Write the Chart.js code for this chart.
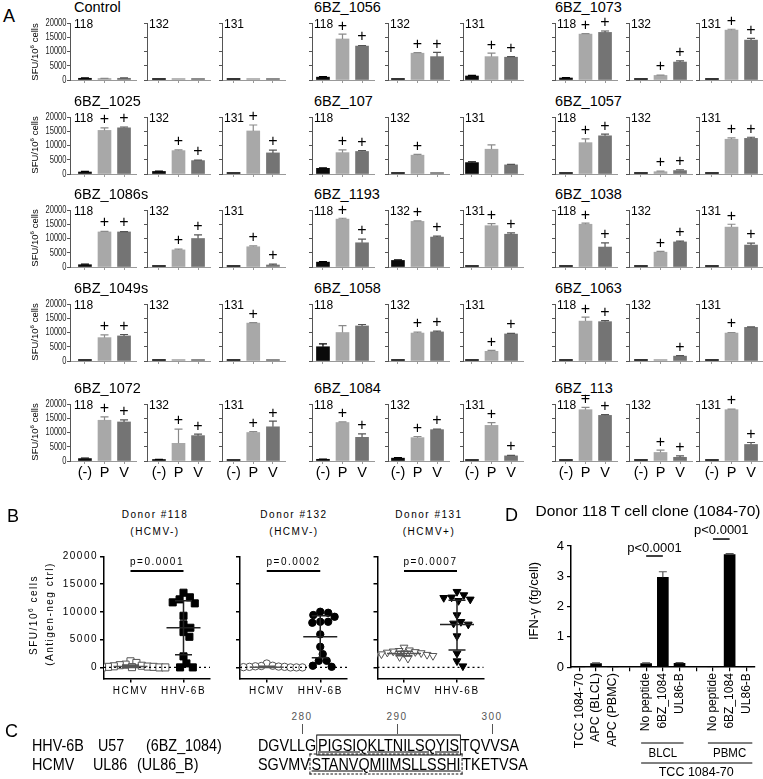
<!DOCTYPE html>
<html><head><meta charset="utf-8">
<script src="https://cdn.jsdelivr.net/npm/chart.js@4.4.0/dist/chart.umd.min.js"></script>
<style>
body{margin:0;background:#fff;}
#root{position:relative;width:763px;height:779px;overflow:hidden;font-family:"Liberation Sans",Arial,sans-serif;color:#000;background:#fff;}
.t{position:absolute;white-space:nowrap;line-height:1;}
canvas{position:absolute;}
sup{font-size:65%;vertical-align:top;position:relative;top:-0.1em;}
</style></head><body><div id="root"></div>
<script>
// ---------------- DATA ----------------
const peptides = ["Control","6BZ_1056","6BZ_1073","6BZ_1025","6BZ_107","6BZ_1057","6BZ_1086s","6BZ_1193","6BZ_1038","6BZ_1049s","6BZ_1058","6BZ_1063","6BZ_1072","6BZ_1084","6BZ_113"];
const donors = ["118","132","131"];
const conditions = ["(-)","P","V"];
const yTicksA = [0,5000,10000,15000,20000];

const sfu118 = [[600,450,600],[1000,14400,11900],[700,16100,16700],[700,15300,16200],[2000,7500,7900],[100,11000,13400],[800,12300,12300],[1700,16800,8500],[100,15000,7000],[50,8200,8800],[5000,10000,12300],[100,14000,13800],[850,14300,13700],[600,13500,8300],[100,18000,16000]];
const sd118  = [[150,100,150],[200,1700,200],[100,200,500],[200,900,300],[200,1000,300],[0,1300,600],[200,200,100],[200,300,1300],[0,400,1500],[0,1000,500],[1000,2400,500],[0,1400,400],[200,1200,700],[100,200,1200],[0,800,300]];
const plus118 = [[0,0,0],[0,1,1],[0,1,1],[0,1,1],[0,1,1],[0,1,1],[0,1,1],[0,1,1],[0,1,1],[0,1,1],[0,0,0],[0,1,1],[0,1,1],[0,1,1],[0,1,1]];

const sfu132 = [[50,50,150],[100,9400,8200],[50,1600,6300],[900,8200,4700],[50,6600,300],[50,800,1200],[100,6000,10000],[2300,16000,10500],[50,5200,8800],[50,50,100],[100,9800,10200],[50,300,1700],[500,6200,8900],[1000,8200,11000],[50,3000,1300]];
const sd132  = [[0,0,0],[0,200,1500],[0,100,400],[100,300,200],[0,300,0],[0,200,300],[0,300,1300],[200,200,300],[0,300,300],[0,0,0],[0,300,300],[0,0,200],[100,5000,500],[200,400,200],[0,800,500]];
const plus132 = [[0,0,0],[0,1,1],[0,1,1],[0,1,1],[0,1,0],[0,1,1],[0,1,1],[0,1,1],[0,1,1],[0,0,0],[0,1,1],[0,0,1],[0,1,1],[0,1,1],[0,1,1]];

const sfu131 = [[150,100,50],[1400,8200,8000],[50,17500,14000],[150,15100,7400],[4000,8700,3200],[50,12200,12500],[100,7100,700],[100,14500,11500],[50,14000,7700],[50,13300,100],[50,3400,9500],[50,9800,11800],[100,10000,12000],[100,12500,1800],[50,18000,5800]];
const sd131  = [[0,0,0],[200,1200,200],[0,300,600],[0,2100,1000],[300,1500,200],[0,500,400],[0,300,300],[0,700,500],[0,1000,700],[0,200,0],[0,300,200],[0,200,200],[0,300,2000],[0,1000,200],[0,200,700]];
const plus131 = [[0,0,0],[0,1,1],[0,1,1],[0,1,1],[0,0,0],[0,1,1],[0,1,1],[0,1,1],[0,1,1],[0,1,0],[0,1,1],[0,1,0],[0,1,1],[0,1,1],[0,1,1]];

// Panel B
const groupsB = ["HCMV","HHV-6B"];
const yTicksB = [0,5000,10000,15000,20000];
const hcmv118 = [1100,800,500,400,300,200,150,100,100,50,0,0,0,0];
const hhv118  = [13470,12640,12270,11730,11550,9310,7760,7150,6370,5520,1990,720,0,0];
const hcmv132 = [700,300,250,200,150,100,100,50,0,0,0,0,0,0];
const hhv132  = [10040,9850,9440,9130,8230,8230,8050,5960,3720,2400,1190,1190,300,110];
const hcmv131 = [3600,3100,3000,2900,2800,2700,2600,2500,2400,2300,2200,2100,1900,1600];
const hhv131  = [13650,13050,12640,12560,12270,12020,9440,8230,7940,7760,5650,2530,1140,230];
const summHcmv = [[0,150,450],[0,50,200],[2100,2500,2900]];   // [q1, median, q3]
const summHhv  = [[2300,7150,12000],[1730,5520,9310],[3120,7760,12130]];
const pValuesB = ["p=0.0001","p=0.0002","p=0.0007"];
const donorTitlesB = ["Donor #118","Donor #132","Donor #131"];
const hcmvStatusB = ["(HCMV-)","(HCMV-)","(HCMV+)"];

// Panel D
const labelsD = ["TCC 1084-70","APC (BLCL)","APC (PBMC)","","No peptide","6BZ_1084","UL86-B","","No peptide","6BZ_1084","UL86-B"];
const ifnD    = [0,0.12,0,null,0.12,2.97,0.13,null,0.01,3.72,0.01];
const ifnErrD = [0,0.02,0,0,0.02,0.18,0.02,0,0,0.03,0];
const pValuesD = ["p<0.0001","p<0.0001"];

// ---------------- HELPERS ----------------
const root = document.getElementById('root');
Chart.defaults.font.family = '"Liberation Sans", Arial, sans-serif';
Chart.defaults.color = '#000';
function txt(html, x, y, css, anchor, sx){
  const d=document.createElement('div'); d.className='t'; d.style.cssText = css||'';
  d.innerHTML=html; d.style.left=x+'px'; d.style.top=y+'px';
  const ax = anchor==='c' ? '-50%' : anchor==='r' ? '-100%' : '0';
  d.style.transformOrigin = anchor==='c' ? '50% 50%' : '0 50%';
  d.style.transform=`translate(${ax},-50%)` + (sx ? ` scaleX(${sx})` : '');
  root.appendChild(d); return d;
}
function vtxt(html, x, y, css){
  const d=document.createElement('div'); d.className='t'; d.style.cssText = css||'';
  d.innerHTML=html; d.style.left=x+'px'; d.style.top=y+'px';
  d.style.transform='translate(-50%,-50%) rotate(-90deg)'; root.appendChild(d); return d;
}
function mkCanvas(l,t,w,h){
  const c=document.createElement('canvas'); c.width=w; c.height=h;
  c.style.left=l+'px'; c.style.top=t+'px'; c.style.width=w+'px'; c.style.height=h+'px';
  root.appendChild(c); return c;
}

// ---------------- PANEL A ----------------
const barDecor = {
  id:'barDecor',
  afterDatasetsDraw(chart, args, o){
    const {ctx, scales:{x,y}} = chart;
    const pts = chart.data.datasets[0].data;
    ctx.save();
    pts.forEach((p,i)=>{
      const e = o.err[i]||0;
      const cx = x.getPixelForValue(p.x);
      const top = y.getPixelForValue(p.y + e);
      if (e>0){
        ctx.strokeStyle=o.errColors[i]; ctx.lineWidth=1.2; ctx.beginPath();
        ctx.moveTo(cx, y.getPixelForValue(p.y)); ctx.lineTo(cx, top);
        ctx.moveTo(cx-4, top); ctx.lineTo(cx+4, top); ctx.stroke();
      }
      if (o.plus[i]){
        ctx.fillStyle='#000'; ctx.font='16px "Liberation Sans", Arial'; ctx.textAlign='center'; ctx.textBaseline='middle';
        ctx.fillText('+', cx, Math.min(top, y.getPixelForValue(p.y)-1)-8);
      }
    });
    ctx.fillStyle='#000'; ctx.font='12px "Liberation Sans", Arial'; ctx.textAlign='left'; ctx.textBaseline='middle';
    ctx.fillText(o.donor, chart.chartArea.left + o.labelDx, chart.chartArea.top + 2);
    if (o.showY){
      // condensed tick labels (the reference uses a narrow face)
      ctx.fillStyle='#222'; ctx.font='10.5px "Liberation Sans", Arial'; ctx.textAlign='right'; ctx.textBaseline='middle';
      yTicksA.forEach(v=>{
        ctx.save(); ctx.translate(chart.chartArea.left-3.5, y.getPixelForValue(v)); ctx.scale(0.72,1);
        ctx.fillText(String(v),0,0); ctx.restore();
      });
    }
    ctx.restore();
  }
};

const donorVals = [sfu118, sfu132, sfu131];
const donorSd = [sd118, sd132, sd131];
const donorPlus = [plus118, plus132, plus131];
const barColors = ['#0a0a0a','#a8a8a8','#747474'];
const errColors = ['#000','#8a8a8a','#555'];
const colAxisX = [[70,147,222],[312,388,463],[555,629,699]];
const firstGap = [[15,12,11.5],[11,10,9],[11,12,13]];
const rowTop = [23.3, 116.7, 210, 303.5, 404];
const PH = 56.7, SP = 19.6;

for (let r=0;r<5;r++){
  for (let g=0; g<3; g++){
    const pi = r*3+g;
    txt(peptides[pi], [74,314,555][g], rowTop[r]-16, 'font-size:14.5px;', 'l');
    for (let d=0; d<3; d++){
      const vals = donorVals[d][pi];
      const ax = colAxisX[g][d], gap = firstGap[g][d];
      const showY = (g===0 && d===0), showX = (r===4);
      const yW = showY ? 30 : 4, padTop = 16, xH = showX ? 20 : 4, padR = 2;
      const plotW = gap + 2*SP + 12;
      const c = mkCanvas(ax - yW, rowTop[r]-padTop, Math.round(yW+plotW+padR), Math.round(padTop+PH+xH));
      new Chart(c, {
        type:'bar',
        data:{datasets:[{data: vals.map((v,i)=>({x:i,y:v})), backgroundColor: barColors, borderWidth:0, barThickness:13, minBarLength:1.5}]},
        options:{
          responsive:false, animation:false, devicePixelRatio:1,
          layout:{padding:{top:padTop,right:padR,left:0,bottom:0}},
          plugins:{legend:{display:false}, tooltip:{enabled:false},
            barDecor:{err:donorSd[d][pi], plus:donorPlus[d][pi], donor:donors[d], errColors, labelDx: showY?4:2, showY}},
          scales:{
            x:{type:'linear', min:-gap/SP, max:2+12/SP, offset:false,
               grid:{offset:false, drawOnChartArea:false, drawTicks:true, tickLength:3, color:'#999'},
               border:{color:'#999', width:1},
               afterBuildTicks:s=>{s.ticks=[0,1,2].map(v=>({value:v}));},
               ticks:{display:showX, callback:v=>conditions[v], font:{size:14.5}, color:'#000', padding:0, maxRotation:0, minRotation:0, autoSkip:false},
               afterFit:s=>{s.height=xH;}},
            y:{type:'linear', min:0, max:20000,
               grid:{drawOnChartArea:false, drawTicks:true, tickLength:3, color:'#555'},
               border:{color:'#555', width:1},
               afterBuildTicks:s=>{s.ticks=yTicksA.map(v=>({value:v}));},
               ticks:{display:false},
               afterFit:s=>{s.width=yW;}}
          }
        },
        plugins:[barDecor]
      });
    }
  }
  vtxt('SFU/10<sup>6</sup> cells', 35, rowTop[r]+PH/2, 'font-size:9.5px;');
}
txt('A', 3, 16, 'font-size:18px;', 'l');

// ---------------- PANEL B ----------------
function swarm(vals, pyPerUnit, minD){
  const idx = vals.map((v,i)=>i).sort((a,b)=>vals[b]-vals[a]);
  const placed=[]; const off=new Array(vals.length).fill(0);
  for (const i of idx){
    const yy = vals[i]*pyPerUnit;
    for (let k=0;k<400;k++){
      const cnd = (k===0)?0:((k%2)?1:-1)*Math.ceil(k/2)*0.5;
      if (placed.every(p => (p.x-cnd)**2 + (p.y-yy)**2 >= minD*minD)){ off[i]=cnd; placed.push({x:cnd,y:yy}); break; }
    }
  }
  return off;
}
const bDecor = {
  id:'bDecor',
  beforeDraw(chart){ chart.ctx.letterSpacing='1.5px'; },
  afterDatasetsDraw(chart,args,o){
    const {ctx, chartArea:a, scales:{x,y}} = chart;
    ctx.save();
    ctx.strokeStyle='#000'; ctx.lineWidth=1.2; ctx.setLineDash([2,3]);
    ctx.beginPath(); ctx.moveTo(a.left, y.getPixelForValue(0)); ctx.lineTo(a.right, y.getPixelForValue(0)); ctx.stroke();
    ctx.setLineDash([]);
    o.summ.forEach((s,i)=>{
      const cx = x.getPixelForValue(i);
      ctx.strokeStyle = i===0 ? '#555' : '#222'; ctx.lineWidth=1.5;
      ctx.beginPath();
      ctx.moveTo(cx-17, y.getPixelForValue(s[1])); ctx.lineTo(cx+17, y.getPixelForValue(s[1]));
      ctx.moveTo(cx-8.5, y.getPixelForValue(s[0])); ctx.lineTo(cx+8.5, y.getPixelForValue(s[0]));
      ctx.moveTo(cx-8.5, y.getPixelForValue(s[2])); ctx.lineTo(cx+8.5, y.getPixelForValue(s[2]));
      ctx.moveTo(cx, y.getPixelForValue(s[0])); ctx.lineTo(cx, y.getPixelForValue(s[2]));
      ctx.stroke();
    });
    const x0=x.getPixelForValue(0), x1=x.getPixelForValue(1);
    ctx.strokeStyle='#000'; ctx.lineWidth=2;
    ctx.beginPath(); ctx.moveTo(x0, y.getPixelForValue(17400)); ctx.lineTo(x1, y.getPixelForValue(17400)); ctx.stroke();
    ctx.fillStyle='#000'; ctx.font='10px "Liberation Sans", Arial'; ctx.textAlign='center'; ctx.textBaseline='middle';
    ctx.fillText(o.p, (x0+x1)/2, y.getPixelForValue(19000));
    ctx.restore();
  }
};
const hcmvB = [hcmv118, hcmv132, hcmv131];
const hhvB = [hhv118, hhv132, hhv131];
const stylesB = [{ps:'rect', r:5, rot:0},{ps:'circle', r:3.7, rot:0},{ps:'triangle', r:4.5, rot:180}];
const bAxisX = [104, 240, 377];
const bTitleX = [155, 294, 429];
const BPH = 122, BPW = 108;
for (let i=0;i<3;i++){
  const showY = i===0;
  const yW = showY ? 44 : 5, padTop = 16.5, canvasH = 162, xH = canvasH - padTop - BPH;
  const c = mkCanvas(bAxisX[i]-yW, 540, yW+BPW+4, canvasH);
  const pyu = BPH/22000, pxu = BPW/2;
  const o1 = swarm(hcmvB[i], pyu, 6), o2 = swarm(hhvB[i], pyu, 7.6);
  const st = stylesB[i];
  new Chart(c, {
    type:'scatter',
    data:{datasets:[
      {data: hhvB[i].map((v,k)=>({x:1+o2[k]/pxu, y:v})), pointStyle:st.ps, pointRadius:st.r, pointRotation:st.rot, backgroundColor:'#000', borderColor:'#000', borderWidth:1},
      {data: hcmvB[i].map((v,k)=>({x:0+o1[k]/pxu, y:v})), pointStyle:st.ps, pointRadius:st.r, pointRotation:st.rot, backgroundColor:'#fff', borderColor:'#555', borderWidth:1}
    ]},
    options:{
      responsive:false, animation:false, devicePixelRatio:1,
      layout:{padding:{top:padTop,right:4,left:0,bottom:0}},
      plugins:{legend:{display:false}, tooltip:{enabled:false}, bDecor:{summ:[summHcmv[i], summHhv[i]], p:pValuesB[i]}},
      scales:{
        x:{type:'linear', min:-0.5, max:1.5,
           grid:{drawOnChartArea:false, tickLength:4, color:'#000', lineWidth:1.5},
           border:{color:'#000', width:1.5},
           afterBuildTicks:s=>{s.ticks=[0,1].map(v=>({value:v}));},
           ticks:{callback:v=>groupsB[v], font:{size:10}, padding:3, maxRotation:0, minRotation:0, autoSkip:false},
           afterFit:s=>{s.height=xH;}},
        y:{type:'linear', min:-2000, max:20000,
           grid:{drawOnChartArea:false, tickLength:4, color:'#000', lineWidth:1.5},
           border:{color:'#000', width:1.5},
           afterBuildTicks:s=>{s.ticks=yTicksB.map(v=>({value:v}));},
           ticks:{display:showY, callback:v=>String(v), font:{size:10}, padding:2},
           afterFit:s=>{s.width=yW;}}
      }
    },
    plugins:[bDecor]
  });
  txt(donorTitlesB[i], bTitleX[i], 515, 'font-size:10px;letter-spacing:1.5px;', 'c');
  txt(hcmvStatusB[i], bTitleX[i], 532, 'font-size:10px;letter-spacing:1.5px;', 'c');
}
vtxt('SFU/10<sup>6</sup> cells', 34, 615, 'font-size:10px;letter-spacing:1.5px;');
vtxt('(Antigen-neg ctrl)', 50, 614, 'font-size:10px;letter-spacing:1.5px;');
txt('B', 7, 516, 'font-size:18px;', 'l');

// ---------------- PANEL C ----------------
txt('C', 5, 731, 'font-size:18px;', 'l');
const seqFont = 'font-size:17px;';
const SX = 0.845;
[['280',302],['290',397],['300',492]].forEach(([s,x])=>{
  txt(s, x, 717, 'font-size:10px;letter-spacing:1.5px;color:#555;', 'c');
  const l=document.createElement('div'); l.style.cssText=`position:absolute;left:${x}px;top:724px;width:1px;height:10px;background:#555;`; root.appendChild(l);
});
txt('HHV-6B', 32, 745, seqFont, 'l', SX); txt('U57', 98, 745, seqFont, 'l', SX); txt('(6BZ_1084)', 146, 745, seqFont, 'l', SX);
txt('HCMV', 32, 764, seqFont, 'l', SX); txt('UL86', 93, 764, seqFont, 'l', SX); txt('(UL86_B)', 137, 764, seqFont, 'l', SX);
txt('DGVLLG<span style="border:1px solid #000;text-decoration:underline;padding:0 1px;">PIGSIQKLTNILSQYIS</span>TQVVSA', 258, 745, seqFont, 'l', SX);
txt('SGVMV<span style="border:1px dashed #000;text-decoration:underline;padding:0 1px;">STANVQMIIMSLLSSHI</span>TKETVSA', 258, 764, seqFont, 'l', SX);

// ---------------- PANEL D ----------------
const dDecor = {
  id:'dDecor',
  afterDraw(chart,args,o){
    const {ctx, scales:{x,y}} = chart;
    const T = 520; // canvas top in page coordinates
    ctx.save();
    chart.data.datasets[0].data.forEach((v,i)=>{
      const e = ifnErrD[i];
      if (v==null || !e) return;
      const cx=x.getPixelForValue(i), t=y.getPixelForValue(v+e);
      ctx.strokeStyle='#555'; ctx.lineWidth=1.2; ctx.beginPath();
      ctx.moveTo(cx, y.getPixelForValue(v)); ctx.lineTo(cx,t); ctx.moveTo(cx-4,t); ctx.lineTo(cx+4,t); ctx.stroke();
    });
    ctx.fillStyle='#000'; ctx.strokeStyle='#000'; ctx.lineWidth=1.5;
    ctx.font='13px "Liberation Sans", Arial'; ctx.textAlign='center'; ctx.textBaseline='middle';
    [[4,5,3.67,3.93,0],[8,9,4.23,4.5,1]].forEach(([a,b,ly,ty,k])=>{
      const xa=x.getPixelForValue(a), xb=x.getPixelForValue(b);
      ctx.beginPath(); ctx.moveTo(xa, y.getPixelForValue(ly)); ctx.lineTo(xb, y.getPixelForValue(ly)); ctx.stroke();
      ctx.fillText(pValuesD[k], (xa+xb)/2, y.getPixelForValue(ty));
    });
    ctx.lineWidth=1;
    const xs=i=>x.getPixelForValue(i);
    ctx.beginPath();
    ctx.moveTo(xs(4)-5, 743-T); ctx.lineTo(xs(6)+4, 743-T);
    ctx.moveTo(xs(8)-5, 743-T); ctx.lineTo(xs(10)+6, 743-T);
    ctx.moveTo(xs(4)-5, 763-T); ctx.lineTo(xs(10)+6, 763-T);
    ctx.stroke();
    ctx.font='13.5px "Liberation Sans", Arial';
    [['BLCL',xs(5)],['PBMC',xs(9)]].forEach(([s,cx])=>{
      ctx.save(); ctx.translate(cx, 753-T); ctx.scale(0.85,1); ctx.fillText(s,0,0); ctx.restore();
    });
    ctx.font='12.5px "Liberation Sans", Arial';
    ctx.fillText('TCC 1084-70', (xs(4)+xs(10))/2, 773-T);
    ctx.restore();
  }
};
{
  const c = mkCanvas(520, 520, 243, 259);
  const padTop = 26, PHD = 121.2;
  new Chart(c, {
    type:'bar',
    data:{labels:labelsD, datasets:[{data:ifnD, backgroundColor:'#000', borderWidth:0, barThickness:11}]},
    options:{
      responsive:false, animation:false, devicePixelRatio:1,
      layout:{padding:{top:padTop,right:6,left:0,bottom:0}},
      plugins:{legend:{display:false}, tooltip:{enabled:false}},
      scales:{
        x:{type:'category', offset:true,
           grid:{offset:false, drawOnChartArea:false, tickLength:4, color:'#000', lineWidth:1.2},
           border:{color:'#000', width:1.5},
           ticks:{maxRotation:90, minRotation:90, autoSkip:false, padding:2,
             font:(ctx)=> (ctx.index<3 ? {size:12.5} : {size:12})},
           afterFit:s=>{s.height=259-padTop-PHD;}},
        y:{type:'linear', min:0, max:4,
           grid:{drawOnChartArea:false, tickLength:4, color:'#000', lineWidth:1.2},
           border:{color:'#000', width:1.5},
           ticks:{stepSize:1, font:{size:13}, padding:3},
           afterFit:s=>{s.width=51;}}
      }
    },
    plugins:[dDecor]
  });
}
txt('Donor 118 T cell clone (1084-70)', 648, 511, 'font-size:15.5px;', 'c');
vtxt('IFN-γ (fg/cell)', 533, 601, 'font-size:13px;');
txt('D', 505, 515, 'font-size:18px;', 'l');
</script></body></html>
